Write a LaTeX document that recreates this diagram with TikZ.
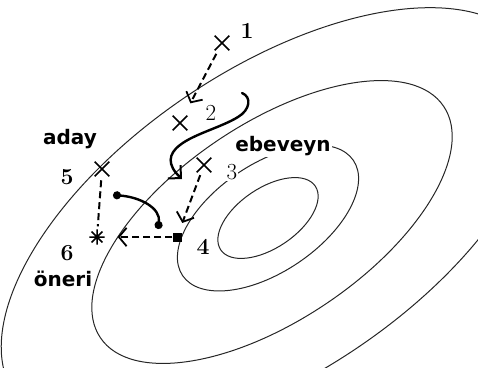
\documentclass[tikz,border=0pt]{standalone}
\usepackage{fontspec}
\newfontfamily\lblfont{DejaVu Sans}
\usetikzlibrary{arrows.meta,shapes.misc}

\begin{document}
\begin{tikzpicture}[x=1pt, y=-1pt,
  contour/.style={black!85, line width=1pt},
  cross/.style={cross out, draw, line width=1.6pt, minimum size=13pt, inner sep=0pt},
  move/.style={line width=2pt, dash pattern=on 7pt off 4pt,
    -{Straight Barb[angle=100:12pt, line width=1.8pt]}},
  trail/.style={line width=2.4pt, line cap=round},
  num/.style={inner sep=1pt, fill=white, font=\fontsize{23}{25}\selectfont},
  bnum/.style={num, font=\fontsize{23}{25}\selectfont\bfseries},
  word/.style={inner sep=1pt, fill=white, font=\lblfont\bfseries\fontsize{20}{22}\selectfont}
]
  \useasboundingbox (0,0) rectangle (478,367);

  \begin{scope}
    \clip (0,0) rectangle (478,367);
    \foreach \cx/\cy/\a/\b in {268/218/57/30, 268/218/103/54, 272/222/207/98, 272/222/310/152}
      \draw[contour, rotate around={34:(\cx,\cy)}] (\cx,\cy) ellipse [x radius=\a pt, y radius=\b pt];
  \end{scope}

  \node[word] (cand) at (70,139) {aday};
  \node[word] (parent) at (283,146) {ebeveyn};
  \node[word] (prop) at (63,279) {öneri};

  \node[cross] (p1) at (222,43) {};
  \node[cross] (p2) at (180,123) {};
  \node[cross] (p3) at (204,165) {};
  \node[fill, minimum size=9pt, inner sep=0pt] (p4) at (177,237) {};
  \node[cross] (p5) at (102,169) {};
  \node[circle, minimum size=15pt, inner sep=0pt] (p6) at (97,237) {};
  \draw[line width=1.5pt] (p6.north) -- (p6.south) (p6.west) -- (p6.east)
    (p6.north west) -- (p6.south east) (p6.north east) -- (p6.south west);

  \node[bnum] (n1) at (247,31) {1};
  \node[num] (n2) at (211,113) {2};
  \node[num] (n3) at (232,172) {3};
  \node[bnum] (n4) at (203,247) {4};
  \node[bnum] (n5) at (67,177) {5};
  \node[bnum] (n6) at (67,253) {6};

  \draw[move, shorten <=4pt, shorten >=14pt] (p1) -- (p2);
  \draw[move, shorten <=3pt, shorten >=10pt] (p3) -- (p4);
  \draw[move, shorten >=13pt] (p4) -- (p6);
  \draw[line width=2pt, dash pattern=on 7pt off 4pt, shorten <=4pt, shorten >=3pt] (p5) -- (p6);

  \coordinate (b0) at (113,195);
  \coordinate (b1) at (158,229);
  \draw[trail, {Circle[length=8pt]}-{Circle[length=8pt]}] (b0) .. controls (140,197) and (161,208) .. (b1);

  \coordinate (w0) at (242,93);
  \coordinate (w1) at (182,179);
  \draw[trail, -{Straight Barb[angle=90:13pt, line width=2pt]}] (w0) .. controls (252,97) and (250,110) .. (238,117)
    .. controls (222,127) and (194,134) .. (180,145) .. controls (168,154) and (167,165) .. (w1);
\end{tikzpicture}
\end{document}
